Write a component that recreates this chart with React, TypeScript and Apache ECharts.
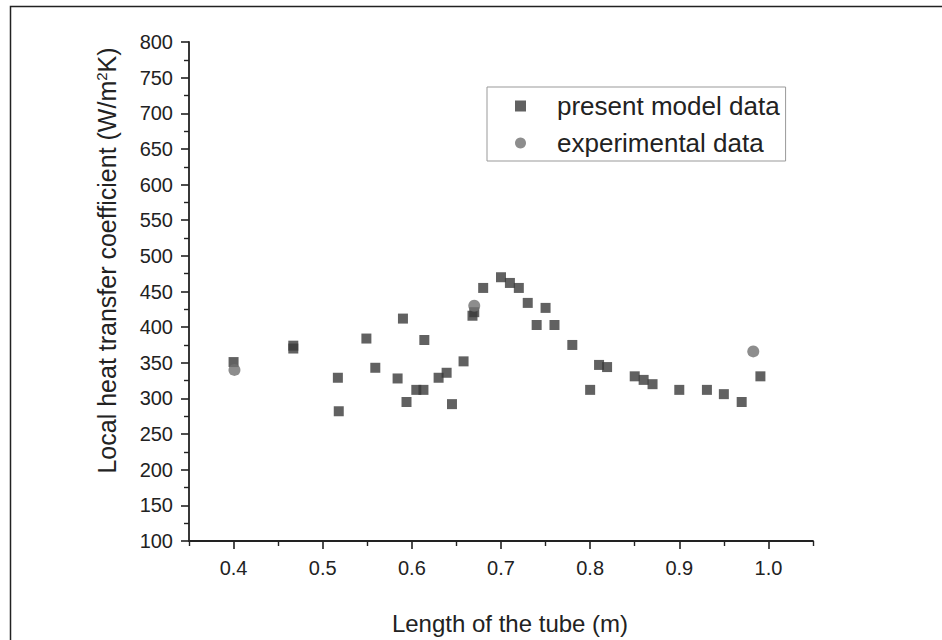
import React, { useEffect, useRef } from "react";
import * as echarts from "echarts";

const modelX = [0.400, 0.467, 0.467, 0.517, 0.518, 0.549, 0.559, 0.584, 0.590, 0.594, 0.605, 0.613, 0.614, 0.630, 0.639, 0.645, 0.658, 0.668, 0.670, 0.680, 0.700, 0.710, 0.720, 0.730, 0.740, 0.750, 0.760, 0.780, 0.800, 0.810, 0.819, 0.850, 0.860, 0.870, 0.900, 0.931, 0.950, 0.970, 0.991];
const modelY = [351, 370, 374, 329, 282, 384, 343, 328, 412, 295, 312, 312, 382, 329, 336, 292, 352, 416, 421, 455, 470, 462, 455, 434, 403, 427, 403, 375, 312, 347, 344, 331, 326, 320, 312, 312, 306, 295, 331];
const expX = [0.401, 0.670, 0.983];
const expY = [340, 430, 366];
const xMajorTicks = [0.4, 0.5, 0.6, 0.7, 0.8, 0.9, 1.0];
const xMinorTicks = [0.35, 0.45, 0.55, 0.65, 0.75, 0.85, 0.95, 1.05];
const seriesNames = ["present model data", "experimental data"];

const FONT = "'Liberation Sans', Arial, sans-serif";
const INK = "#222";

export default function App() {
  const ref = useRef<HTMLDivElement>(null);
  useEffect(() => {
    if (!ref.current) return;
    const chart = echarts.init(ref.current, null, { renderer: "svg" });
    const axisCommon = {
      type: "value" as const,
      min: 0.35,
      max: 1.05,
      splitLine: { show: false },
    };
    chart.setOption({
      animation: false,
      backgroundColor: "#fff",
      textStyle: { fontFamily: FONT },
      grid: { left: 189, right: 129, top: 42, bottom: 96 },
      legend: {
        orient: "vertical",
        left: 487,
        top: 87,
        data: seriesNames,
        itemWidth: 11,
        itemHeight: 11,
        itemGap: 11,
        padding: [6, 6, 5, 28],
        borderColor: "#999",
        borderWidth: 1,
        textStyle: { fontSize: 26, color: INK, fontFamily: FONT, lineHeight: 24, padding: [0, 0, 0, 26] },
      },
      xAxis: [
        {
          ...axisCommon,
          name: "Length of the tube (m)",
          nameLocation: "middle",
          nameGap: 70,
          nameTextStyle: { fontSize: 24, color: INK, fontFamily: FONT, padding: [0, 0, 0, 18] },
          axisLine: { show: true, lineStyle: { color: INK, width: 1.8 } },
          axisTick: { show: true, length: 8, customValues: xMajorTicks, lineStyle: { color: INK, width: 1.6 } },
          axisLabel: { show: true, customValues: xMajorTicks, fontSize: 20, color: INK, margin: 17, fontFamily: FONT, formatter: (v: number) => v.toFixed(1) },
        },
        {
          ...axisCommon,
          position: "bottom",
          axisLine: { show: false },
          axisTick: { show: true, length: 5, customValues: xMinorTicks, lineStyle: { color: INK, width: 1.4 } },
          axisLabel: { show: false },
        },
      ],
      yAxis: {
        type: "value",
        min: 100,
        max: 800,
        interval: 50,
        name: "Local heat transfer coefficient (W/m{sup|2}K)",
        nameLocation: "middle",
        nameGap: 70,
        nameTextStyle: {
          fontSize: 25,
          color: INK,
          fontFamily: FONT,
          padding: [0, 0, 0, 62],
          rich: { sup: { fontSize: 15, color: INK, fontFamily: FONT, verticalAlign: "top", lineHeight: 25, padding: [0, 0, 10, 0] } },
        },
        splitLine: { show: false },
        axisLine: { show: true, lineStyle: { color: INK, width: 1.8 } },
        axisTick: { show: true, length: 8, lineStyle: { color: INK, width: 1.6 } },
        minorTick: { show: true, splitNumber: 2, length: 5, lineStyle: { color: INK, width: 1.4 } },
        axisLabel: { fontSize: 20, color: INK, margin: 16, fontFamily: FONT },
      },
      graphic: [
        {
          type: "rect",
          left: 8,
          top: 4,
          shape: { width: 1200, height: 1200 },
          style: { fill: "none", stroke: "#222", lineWidth: 1.5 },
          silent: true,
        },
      ],
      series: [
        {
          name: seriesNames[0],
          type: "scatter",
          symbol: "rect",
          symbolSize: 10,
          itemStyle: { color: "#3a3a3a" },
          data: modelX.map((x, i) => [x, modelY[i]]),
          z: 2,
        },
        {
          name: seriesNames[1],
          type: "scatter",
          symbol: "circle",
          symbolSize: 12,
          itemStyle: { color: "#707070" },
          data: expX.map((x, i) => [x, expY[i]]),
          z: 3,
        },
      ],
    });
    return () => chart.dispose();
  }, []);
  return <div ref={ref} style={{ position: "absolute", left: 0, top: 0, width: 942, height: 640 }} />;
}
